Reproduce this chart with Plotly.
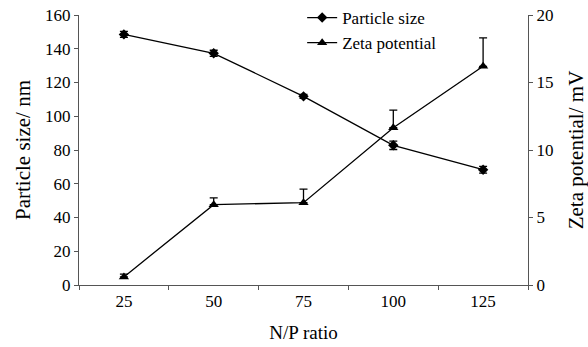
import plotly.graph_objects as go

np_ratio = ["25", "50", "75", "100", "125"]
particle_size = [148.5, 137.3, 111.8, 82.8, 68.3]
particle_err = [1.8, 1.8, 1.2, 2.5, 2.0]
zeta = [0.6, 5.95, 6.1, 11.65, 16.2]
zeta_err_plus = [0.2, 0.5, 1.0, 1.3, 2.1]
zeta_err_minus = [0, 0, 0, 0, 0]

font_family = "Liberation Serif, Times New Roman, serif"

fig = go.Figure()
fig.add_trace(go.Scatter(
    x=np_ratio, y=particle_size, name="Particle size",
    mode="lines+markers",
    line=dict(color="black", width=1.3),
    marker=dict(symbol="diamond", size=8, color="black"),
    error_y=dict(type="data", array=particle_err, color="black", thickness=1.3, width=4),
))
fig.add_trace(go.Scatter(
    x=np_ratio, y=zeta, name="Zeta potential", yaxis="y2",
    mode="lines+markers",
    line=dict(color="black", width=1.3),
    marker=dict(symbol="triangle-up", size=9, color="black"),
    error_y=dict(type="data", symmetric=False, array=zeta_err_plus,
                 arrayminus=zeta_err_minus, color="black", thickness=1.3, width=4),
))

fig.update_layout(
    width=588, height=347,
    margin=dict(l=79, r=60, t=15, b=62, autoexpand=False),
    paper_bgcolor="white", plot_bgcolor="white",
    font=dict(family=font_family, size=17, color="black"),
    showlegend=True,
    legend=dict(x=0.497, y=1.007, xanchor="left", yanchor="top", yref="container",
                bgcolor="rgba(0,0,0,0)", font=dict(size=17),
                tracegroupgap=0, itemwidth=30),
    xaxis=dict(
        type="category", range=[-0.5, 4.5], automargin=False,
        title=dict(text="N/P ratio", font=dict(size=19), standoff=16),
        showline=True, linecolor="#555", linewidth=1.2,
        ticks="outside", tickson="boundaries", ticklen=4, tickcolor="#555",
        showgrid=False, zeroline=False,
    ),
    yaxis=dict(
        automargin=False,
        title=dict(text="Particle size/ nm", font=dict(size=21), standoff=8),
        range=[0, 160], dtick=20,
        showline=True, linecolor="#555", linewidth=1.2,
        ticks="outside", ticklen=4, tickcolor="#555",
        showgrid=False, zeroline=False,
    ),
    yaxis2=dict(
        automargin=False,
        title=dict(text="Zeta potential/ mV", font=dict(size=21), standoff=16),
        range=[0, 20], dtick=5, overlaying="y", side="right",
        showline=True, linecolor="#555", linewidth=1.2,
        ticks="outside", ticklen=4, tickcolor="#555",
        showgrid=False, zeroline=False,
    ),
)

fig.write_html("out.html")
